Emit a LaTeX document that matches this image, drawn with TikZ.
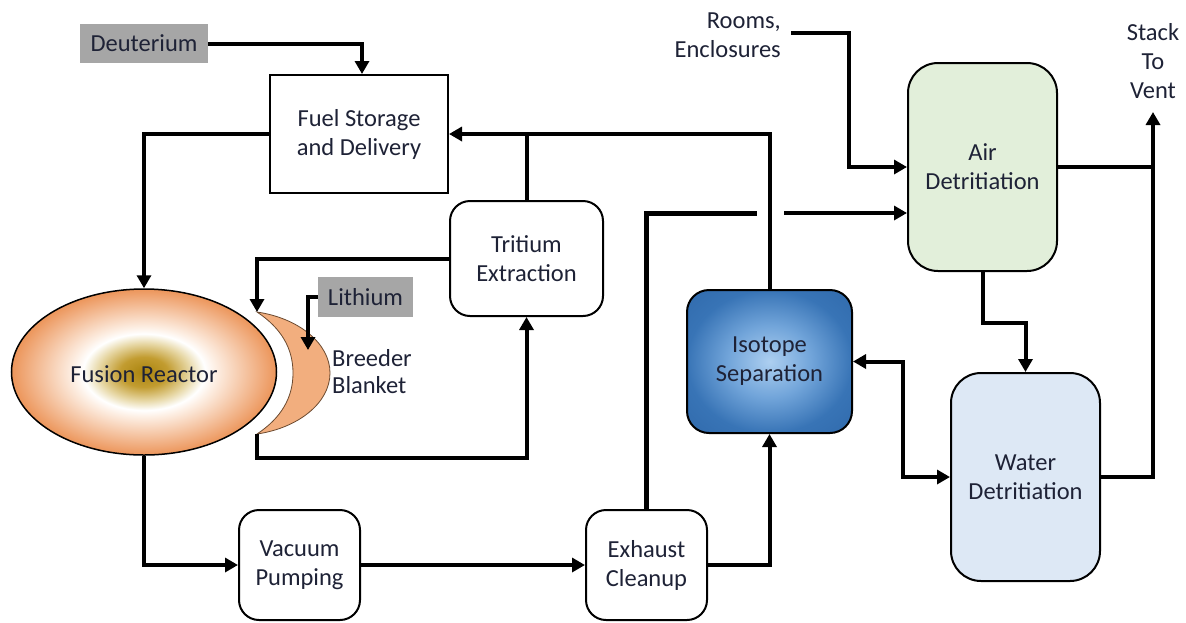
\documentclass[tikz,border=0pt]{standalone}
\usepackage{fontspec}
\setmainfont{Carlito}
\usetikzlibrary{arrows.meta,shapes.geometric,calc}
\definecolor{txt}{HTML}{1E2236}
\definecolor{graybox}{HTML}{A6A6A6}
\definecolor{airfill}{HTML}{E2EFDA}
\definecolor{waterfill}{HTML}{DDE8F5}
\definecolor{blanketfill}{HTML}{F2AE7E}
\definecolor{blanketline}{HTML}{6B4A30}
\definecolor{rcA}{HTML}{AA840E}
\definecolor{rcB}{HTML}{C29C30}
\definecolor{rcC}{HTML}{E6D6A2}
\definecolor{rcD}{HTML}{FDEFE4}
\definecolor{rcE}{HTML}{EC955A}
\definecolor{isA}{HTML}{ADCFF0}
\definecolor{isB}{HTML}{72A5DA}
\definecolor{isC}{HTML}{3874B6}
\definecolor{isD}{HTML}{306AAC}
\pgfdeclareradialshading{reactorshade}{\pgfpoint{0bp}{0bp}}{color(0bp)=(rcA); color(4.5bp)=(rcB); color(8.5bp)=(rcC); color(11.5bp)=(white); color(13.5bp)=(rcD); color(25bp)=(rcE); color(50bp)=(rcE)}
\pgfdeclareradialshading{isoshade}{\pgfpoint{0bp}{0bp}}{color(0bp)=(isA); color(12.5bp)=(isB); color(25bp)=(isC); color(36bp)=(isD); color(50bp)=(isD)}
\tikzset{
  lbl/.style={font=\fontsize{24.5}{29}\selectfont, text=txt, align=center, inner sep=0pt},
  sqbox/.style={lbl, draw=black, line width=2pt, fill=white},
  rbox/.style={lbl, draw=black, line width=2pt, rounded corners=20pt, fill=white},
  graylbl/.style={lbl, fill=graybox},
  flow/.style={line width=4pt, black},
  arr/.style={flow, -{Triangle[length=13pt,width=14pt]}},
  darr/.style={flow, {Triangle[length=13pt,width=14pt]}-{Triangle[length=13pt,width=14pt]}},
}
\begin{document}
\begin{tikzpicture}[x=1pt,y=-1pt]
\useasboundingbox (0,0) rectangle (1186,622);
% nodes
\node[graylbl, minimum width=128pt, minimum height=39pt] (deut) at (144,43.5) {Deuterium};
\node[sqbox, minimum width=178pt, minimum height=118pt] (fuel) at (359,134) {Fuel Storage\\and Delivery};
\node[ellipse, draw=black, line width=1.5pt, shading=reactorshade, minimum width=265pt, minimum height=166pt, inner sep=0pt] (reactor) at (144,372) {};
\node[lbl] (reactortxt) at (144,374) {Fusion Reactor};
\draw[fill=blanketfill, draw=blanketline, line width=0.8pt]
  (257,312) .. controls (298,318) and (330,343) .. (330,373)
  .. controls (330,403) and (298,428) .. (257,434)
  .. controls (281,418) and (293,398) .. (293,373)
  .. controls (293,348) and (281,328) .. (257,312) -- cycle;
\coordinate (btop) at (257,312);
\coordinate (bbot) at (257,434);
\coordinate (blith) at (308,350);
\node[lbl, align=left, anchor=west, font=\fontsize{24.5}{27}\selectfont] (breeder) at (332,372) {Breeder\\Blanket};
\node[graylbl, minimum width=95pt, minimum height=40pt] (lith) at (365.5,297) {Lithium};
\node[rbox, minimum width=153pt, minimum height=115pt] (trit) at (526.5,258.5) {Tritium\\Extraction};
\node[rbox, minimum width=121pt, minimum height=110pt] (vac) at (299.5,565) {Vacuum\\Pumping};
\node[rbox, minimum width=121pt, minimum height=110pt] (exh) at (646.5,565) {Exhaust\\Cleanup};
\node[lbl, draw=black, line width=2pt, rounded corners=22pt, shading=isoshade, minimum width=165pt, minimum height=143pt] (iso) at (769.5,361.5) {Isotope\\Separation};
\node[rbox, fill=airfill, rounded corners=30pt, minimum width=149pt, minimum height=208pt] (air) at (982.5,167) {Air\\Detritiation};
\node[rbox, fill=waterfill, rounded corners=30pt, minimum width=149pt, minimum height=208pt] (water) at (1025.5,477) {Water\\Detritiation};
\node[lbl, align=right, anchor=east] (rooms) at (781,35) {Rooms,\\Enclosures};
\node[lbl] (stack) at (1153,61) {Stack\\To\\Vent};
\coordinate (roomsend) at (791,33);
\coordinate (vent) at (1153,112);
\coordinate (gapL) at (757,213);
\coordinate (gapR) at (784,213);
% connectors
\draw[arr] (deut.east) -| ([xshift=3pt]fuel.north);
\draw[arr] (fuel.west) -| (reactor.north);
\draw[arr] (trit.west) -| (btop);
\draw[arr] (bbot) -- ++(0,24) -| (trit.south);
\draw[arr] (lith.west) -| (blith);
\draw[flow] (trit.north) -- (trit.north |- fuel.east);
\draw[arr] (iso.north) |- (fuel.east);
\draw[arr] (reactor.south) |- (vac.west);
\draw[arr] (vac.east) -- (exh.west);
\draw[arr] (exh.east) -| (iso.south);
\draw[flow, line width=5pt] (exh.north) |- (gapL);
\draw[arr] (gapR) -- (gapR -| air.west);
\draw[arr] (roomsend) -| ([xshift=-58pt]air.west) -- (air.west);
\draw[flow] (air.east) -- (air.east -| vent);
\draw[arr] (water.east) -| (vent);
\draw[arr] (air.south) -- ++(0,51) -| (water.north);
\draw[darr] (iso.east) -- ++(50,0) |- (water.west);
\end{tikzpicture}
\end{document}
